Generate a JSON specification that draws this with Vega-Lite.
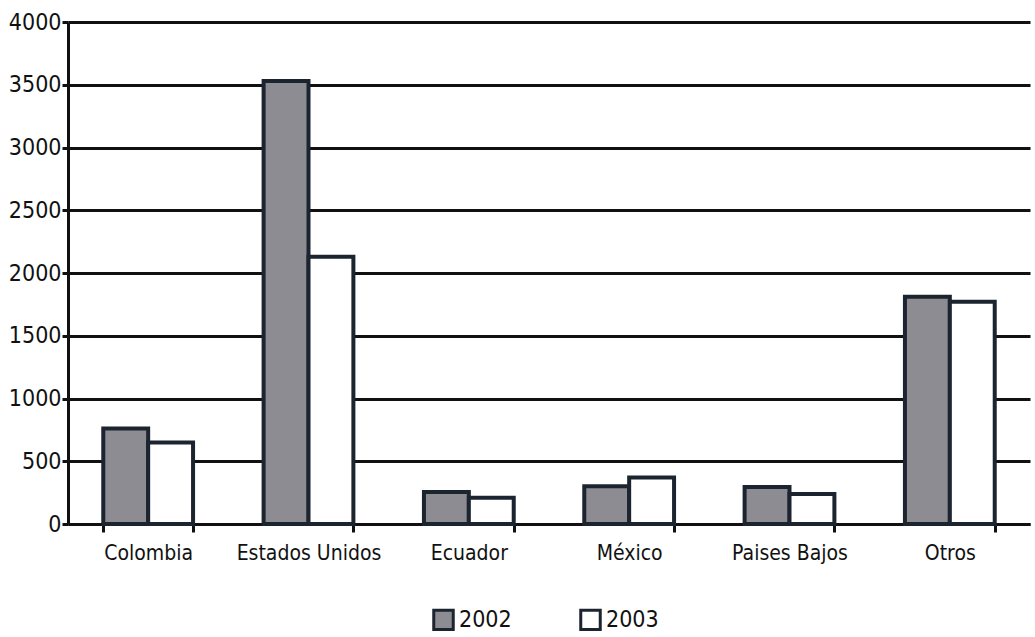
{
  "$schema": "https://vega.github.io/schema/vega-lite/v6.json",
  "autosize": {"type": "none"},
  "width": 962,
  "height": 502,
  "padding": {"left": 68, "top": 22, "right": 5, "bottom": 113},
  "background": "#ffffff",
  "config": {
    "font": "DejaVu Sans Condensed",
    "view": {"stroke": null}
  },
  "data": {
    "values": [
      {"pais": "Colombia", "anio": "2002", "valor": 760},
      {"pais": "Colombia", "anio": "2003", "valor": 650},
      {"pais": "Estados Unidos", "anio": "2002", "valor": 3530},
      {"pais": "Estados Unidos", "anio": "2003", "valor": 2130},
      {"pais": "Ecuador", "anio": "2002", "valor": 255},
      {"pais": "Ecuador", "anio": "2003", "valor": 210},
      {"pais": "México", "anio": "2002", "valor": 300},
      {"pais": "México", "anio": "2003", "valor": 370},
      {"pais": "Paises Bajos", "anio": "2002", "valor": 295},
      {"pais": "Paises Bajos", "anio": "2003", "valor": 240},
      {"pais": "Otros", "anio": "2002", "valor": 1810},
      {"pais": "Otros", "anio": "2003", "valor": 1770}
    ]
  },
  "mark": {"type": "bar", "stroke": "#1c2430", "strokeWidth": 4},
  "encoding": {
    "x": {
      "field": "pais",
      "type": "nominal",
      "sort": null,
      "title": null,
      "scale": {"paddingInner": 0.44, "paddingOuter": 0.22},
      "axis": {
        "labelAngle": 0,
        "labelFontSize": 21,
        "labelColor": "#111111",
        "labelPadding": 10,
        "domainColor": "#111111",
        "domainWidth": 3,
        "tickColor": "#111111",
        "tickWidth": 3,
        "tickSize": 8,
        "tickBand": "extent",
        "grid": false
      }
    },
    "xOffset": {"field": "anio", "type": "nominal"},
    "y": {
      "field": "valor",
      "type": "quantitative",
      "title": null,
      "scale": {"domain": [0, 4000]},
      "axis": {
        "values": [0, 500, 1000, 1500, 2000, 2500, 3000, 3500, 4000],
        "format": "d",
        "labelFontSize": 23,
        "labelColor": "#111111",
        "labelPadding": 1,
        "domainColor": "#111111",
        "domainWidth": 3,
        "tickColor": "#111111",
        "tickWidth": 3,
        "tickSize": 6,
        "gridColor": "#111111",
        "gridWidth": 3,
        "gridOpacity": 1
      }
    },
    "fill": {
      "field": "anio",
      "type": "nominal",
      "title": null,
      "scale": {"domain": ["2002", "2003"], "range": ["#8c8c92", "#ffffff"]},
      "legend": {
        "orient": "none",
        "legendX": 364,
        "legendY": 586,
        "direction": "horizontal",
        "symbolType": "square",
        "symbolSize": 380,
        "symbolStrokeColor": "#1c2430",
        "symbolStrokeWidth": 3,
        "labelFontSize": 23,
        "labelColor": "#111111",
        "labelOffset": 4,
        "columnPadding": 62
      }
    }
  }
}
